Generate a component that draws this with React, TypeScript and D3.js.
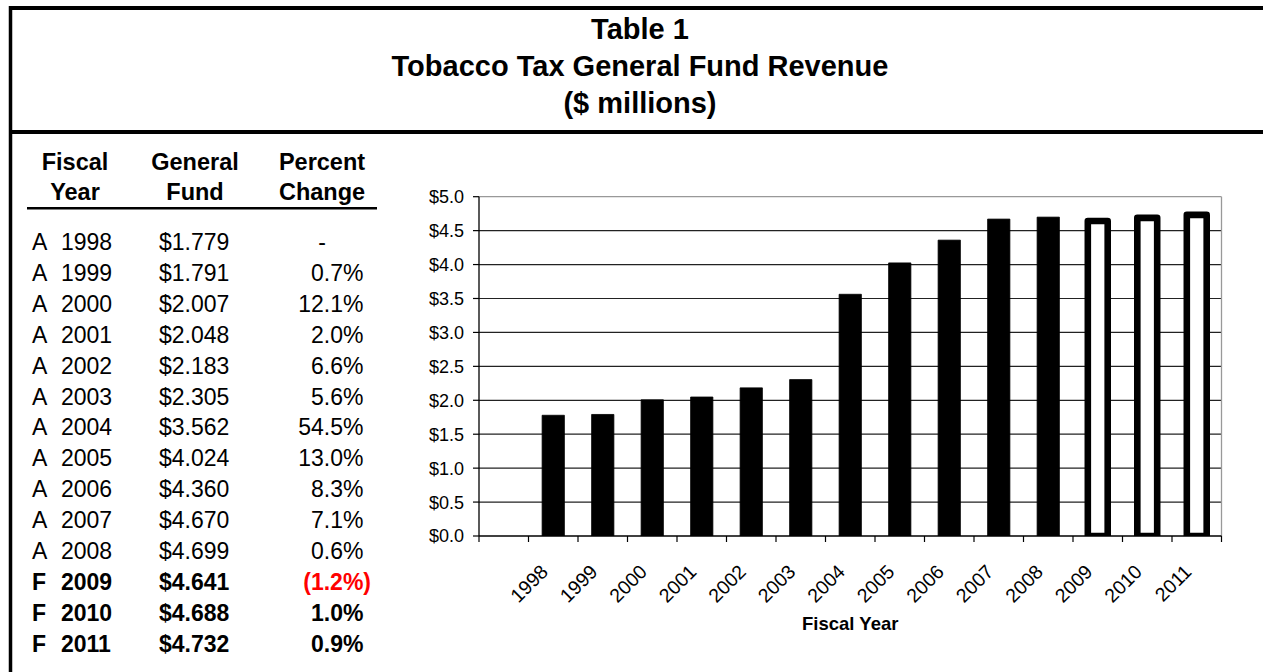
import React from "react";
import * as d3 from "d3";

const years = ["1998","1999","2000","2001","2002","2003","2004","2005","2006","2007","2008","2009","2010","2011"];
const status = ["A","A","A","A","A","A","A","A","A","A","A","F","F","F"];
const revenue = [1.779,1.791,2.007,2.048,2.183,2.305,3.562,4.024,4.360,4.670,4.699,4.641,4.688,4.732];
const pctChange = ["-","0.7%","12.1%","2.0%","6.6%","5.6%","54.5%","13.0%","8.3%","7.1%","0.6%","(1.2%)","1.0%","0.9%"];
const yTickValues = [0,0.5,1,1.5,2,2.5,3,3.5,4,4.5,5];
const categories = ["", ...years];
const titleLines = ["Table 1","Tobacco Tax General Fund Revenue","($ millions)"];

const FONT = "'Liberation Sans', Arial, Helvetica, sans-serif";

export default function App() {
  const W = 1263, H = 672;
  const left = 479, right = 1221.5, top = 196.7, bottom = 536;
  const x = d3.scaleBand<string>().domain(categories).range([left, right]).paddingInner(0.55).paddingOuter(0.275);
  const y = d3.scaleLinear().domain([0, 5]).range([bottom, top]);
  const step = x.step();
  const bw = x.bandwidth();
  const fmtY = (v: number) => "$" + d3.format(".1f")(v);
  const rowY = (i: number) => 250 + i * 30.9;

  return (
    <svg width={W} height={H} style={{ position: "absolute", left: 0, top: 0, background: "#fff" }} fontFamily={FONT}>
      <defs>
        <clipPath id="plotclip">
          <rect x={left} y={0} width={right - left} height={bottom} />
        </clipPath>
      </defs>
      {/* frame */}
      <line x1={9} x2={W} y1={8} y2={8} stroke="#000" strokeWidth={4} />
      <line x1={10.5} x2={10.5} y1={6} y2={H} stroke="#000" strokeWidth={3.5} />
      <line x1={9} x2={W} y1={132} y2={132} stroke="#000" strokeWidth={4} />
      {/* title */}
      {titleLines.map((t, i) => (
        <text key={i} x={640} y={39 + i * 37} textAnchor="middle" fontWeight="bold" fontSize={29}>{t}</text>
      ))}
      {/* table header */}
      <g fontWeight="bold" fontSize={23.5} textAnchor="middle">
        <text x={75} y={170}>Fiscal</text>
        <text x={75} y={200}>Year</text>
        <text x={195} y={170}>General</text>
        <text x={195} y={200}>Fund</text>
        <text x={322} y={170}>Percent</text>
        <text x={322} y={200}>Change</text>
      </g>
      <line x1={27} x2={377} y1={208.3} y2={208.3} stroke="#000" strokeWidth={2.4} />
      {/* table rows */}
      <g fontSize={23}>
        {years.map((yr, i) => {
          const bold = status[i] === "F";
          const p = pctChange[i];
          const neg = p.startsWith("(");
          return (
            <g key={yr} fontWeight={bold ? "bold" : "normal"}>
              <text x={32} y={rowY(i)}>{status[i]}</text>
              <text x={61} y={rowY(i)}>{yr}</text>
              <text x={159} y={rowY(i)}>{"$" + revenue[i].toFixed(3)}</text>
              {p === "-" ? (
                <text x={322} y={rowY(i)} textAnchor="middle">-</text>
              ) : (
                <text x={neg ? 371 : 363.5} y={rowY(i)} textAnchor="end" fill={neg ? "#ff0000" : "#000"}>{p}</text>
              )}
            </g>
          );
        })}
      </g>
      {/* chart gridlines */}
      {yTickValues.filter(v => v > 0 && v < 5).map(v => (
        <line key={v} x1={left} x2={right} y1={y(v)} y2={y(v)} stroke="#222" strokeWidth={1.2} />
      ))}
      <line x1={left} x2={right} y1={y(5)} y2={y(5)} stroke="#999" strokeWidth={1.3} />
      <line x1={right} x2={right} y1={top} y2={bottom} stroke="#999" strokeWidth={1.3} />
      {/* bars */}
      <g clipPath="url(#plotclip)">
        {years.map((yr, i) => {
          const bx = x(yr) as number;
          const v = revenue[i];
          if (status[i] === "A") {
            return <rect key={yr} x={bx} y={y(v)} width={bw} height={y(0) - y(v)} fill="#000" stroke="#000" strokeWidth={0.8} strokeLinejoin="round" />;
          }
          return <rect key={yr} x={bx + 1.2} y={y(v)} width={bw - 2.4} height={y(0) - y(v)} fill="#fff" stroke="#000" strokeWidth={6.6} strokeLinejoin="round" />;
        })}
      </g>
      {/* axes */}
      <line x1={left} x2={left} y1={top} y2={bottom} stroke="#000" strokeWidth={1.3} />
      <line x1={left} x2={right} y1={bottom} y2={bottom} stroke="#000" strokeWidth={1.3} />
      {yTickValues.map(v => (
        <g key={v}>
          <line x1={left - 6} x2={left} y1={y(v)} y2={y(v)} stroke="#000" strokeWidth={1.2} />
          <text x={left - 15} y={y(v)} dy="0.36em" textAnchor="end" fontSize={18}>{fmtY(v)}</text>
        </g>
      ))}
      {categories.map((c, i) => (
        <line key={"t" + i} x1={left + i * step} x2={left + i * step} y1={bottom} y2={bottom + 6} stroke="#000" strokeWidth={1.2} />
      ))}
      <line x1={right} x2={right} y1={bottom} y2={bottom + 6} stroke="#000" strokeWidth={1.2} />
      {years.map(yr => {
        const cx = (x(yr) as number) + bw / 2;
        return (
          <text key={"l" + yr} transform={`translate(${cx - 4},${bottom + 37}) rotate(-45)`} textAnchor="end" fontSize={19.5}>{yr}</text>
        );
      })}
      <text x={(left + right) / 2} y={630} textAnchor="middle" fontWeight="bold" fontSize={18.5}>Fiscal Year</text>
    </svg>
  );
}
